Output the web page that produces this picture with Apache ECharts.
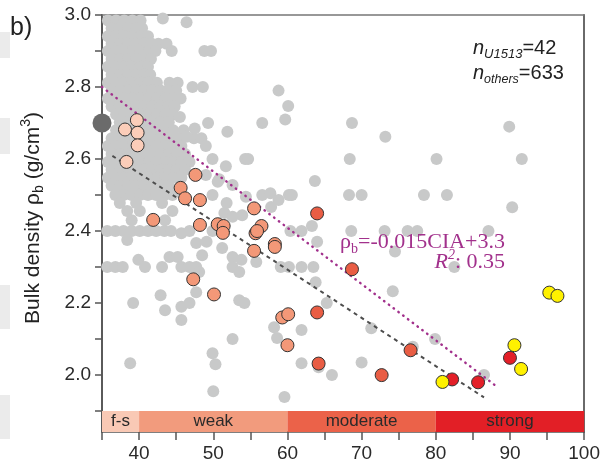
<!DOCTYPE html>
<html><head><meta charset="utf-8">
<script src="https://cdn.jsdelivr.net/npm/echarts@6/dist/echarts.min.js"></script>
<style>html,body{margin:0;padding:0;background:#fff}#c{width:603px;height:468px}</style>
</head><body><div id="c"></div>
<script>
// ---- axis ticks / labels ----
const xTickValues = [35,40,45,50,55,60,65,70,75,80,85,90,95,100];
const xLabelValues = [40,50,60,70,80,90,100];
const yTickValues = [1.9,2.0,2.1,2.2,2.3,2.4,2.5,2.6,2.7,2.8,2.9,3.0];
const yLabelValues = [2.0,2.2,2.4,2.6,2.8,3.0];

// ---- weathering classes (CIA ranges) ----
const classNames = ['f-s','weak','moderate','strong'];
const classFrom = [35,40,60,80];
const classTo = [40,60,80,100];
const classColors = ['#f9c9b5','#f29b7d','#eb6249','#e21f26'];

// ---- other sites: dense cluster rows [rho_b, [CIA...]] ----
const grayRows = [
  [2.985,[35.8,36.9,38.0,39.1,40.2]],
  [2.963,[36.3,37.4,38.5,39.6,40.4]],
  [2.941,[35.8,36.9,38.0,39.1,40.2,41.2]],
  [2.920,[36.3,37.4,38.5,39.6,40.7,41.7,42.6,43.7]],
  [2.900,[35.8,36.9,38.0,39.1,40.2,41.3,42.2,44.4]],
  [2.878,[36.3,37.4,38.5,39.6,40.7,41.6]],
  [2.856,[35.8,36.9,38.0,39.1,40.2,41.2]],
  [2.834,[36.3,37.4,38.5,39.6,40.7,41.5]],
  [2.812,[35.8,36.9,38.0,39.1,40.2,41.3,42.4,44.1,45.2]],
  [2.790,[36.3,37.4,38.5,39.6,40.7,41.8,42.9,43.9,45.0]],
  [2.768,[35.8,36.9,38.0,39.1,40.2,41.3,42.4,43.5,44.6,45.6]],
  [2.746,[36.3,37.4,38.5,39.6,40.7,41.8,42.9,44.0,44.8]],
  [2.724,[36.9,38.0,39.1,40.2,41.3,42.4,43.5,44.6]],
  [2.702,[37.4,38.5,39.6,40.7,41.8,42.9,44.0]],
  [2.680,[36.9,38.0,39.1,40.2,41.3,42.4,43.5,44.6,46.0]],
  [2.658,[36.3,37.4,38.5,39.6,40.7,41.8,42.9,44.0,45.1,47.4,48.4]],
  [2.636,[35.8,36.9,38.0,39.1,40.2,41.3,42.4,43.5,44.6,45.7]],
  [2.614,[36.3,37.4,38.5,39.6,40.7,41.8,42.9,44.0,45.1,46.2]],
  [2.592,[35.8,36.9,38.0,39.1,40.2,41.3,42.4,43.5,44.6,45.7,46.8]],
  [2.570,[36.3,37.4,38.5,39.6,40.7,41.8,42.9,44.0,45.1,46.2]],
  [2.548,[35.8,36.9,38.0,39.1,40.2,41.3,42.4,43.5,44.6,45.7]],
  [2.526,[36.3,37.4,38.5,39.6,40.7,41.8,42.9,44.0]],
  [2.500,[36.8,37.9,39.0,40.1,41.2,42.3,43.4,44.5]],
  [2.478,[37.4,39.6,43.1]],
  [2.456,[38.4,40.1,44.5]],
  [2.430,[39.0,43.5]],
  [2.400,[35.7,36.8,37.9,39.0,40.1,41.2,42.3,43.4,44.3]],
  [2.375,[38.4]],
  [2.320,[39.9]],
  [2.300,[35.7,36.8,37.8,40.8]]
];
// ---- other sites: scattered points [CIA, rho_b] ----
const grayScatter = [
  [43.2,2.99],[46.4,2.98],[48.8,2.90],[49.7,2.90],[47.2,2.80],[48.6,2.80],
  [58.8,2.79],[60.1,2.747],[59.7,2.71],[56.6,2.70],[49.3,2.70],[51.9,2.676],[47.5,2.685],[45.5,2.717],[46.4,2.662],[49.0,2.636],
  [68.7,2.70],[73.2,2.662],[89.9,2.69],[68.4,2.60],[80.1,2.60],[91.6,2.60],
  [49.9,2.60],[51.7,2.58],[54.3,2.60],[54.7,2.60],[50.8,2.544],[52.6,2.528],[49.0,2.556],[50.6,2.537],[63.7,2.539],
  [49.9,2.50],[54.4,2.495],[56.6,2.50],[57.7,2.505],[60.2,2.50],[60.6,2.50],[58.8,2.486],[57.8,2.467],[51.8,2.478],
  [68.3,2.50],[70.0,2.50],[78.4,2.50],[81.5,2.50],[90.3,2.466],
  [51.5,2.45],[52.6,2.44],[53.9,2.444],
  [63.3,2.414],[61.9,2.40],[60.4,2.40],[64.0,2.37],
  [68.6,2.40],[73.1,2.40],[76.2,2.40],[77.5,2.40],[87.1,2.40],
  [45.7,2.394],[46.8,2.40],[47.7,2.367],[49.1,2.37],[49.9,2.40],[51.2,2.353],[48.5,2.333],[52.6,2.328],[53.8,2.32],[55.8,2.314],
  [74.5,2.343],[82.5,2.30],[68.7,2.294],
  [43.1,2.30],[44.1,2.328],[45.2,2.328],[45.7,2.30],[46.8,2.30],[47.7,2.30],[48.1,2.286],[52.6,2.30],[53.5,2.286],
  [59.1,2.30],[60.2,2.30],[61.9,2.30],[63.5,2.30],[63.8,2.258],
  [47.7,2.23],[42.9,2.222],[39.2,2.20],[43.5,2.18],[45.7,2.19],[46.8,2.20],[45.7,2.153],[53.5,2.208],[54.2,2.20],[65.3,2.20],
  [74.2,2.233],[71.3,2.13],[79.9,2.10],[76.9,2.079],
  [58.2,2.133],[58.6,2.103],[61.9,2.125],[52.6,2.10],[49.9,2.061],[50.3,2.03],[38.8,2.033],[50.0,1.955],[59.6,1.939],[61.9,2.033],[64.2,2.022],
  [70.0,2.035],[66.0,2.00],[86.5,2.00]
];
// ---- U1513 samples by weathering class [CIA, rho_b] ----
const fsPts = [[39.7,2.708],[38.1,2.682],[39.8,2.673],[39.8,2.638],[38.3,2.592]];
const weakPts = [[47.6,2.556],[45.6,2.52],[46.2,2.491],[48.2,2.486],[41.9,2.431],[48.2,2.417],[50.6,2.419],[51.4,2.414],[51.3,2.395],
  [55.5,2.463],[56.5,2.414],[55.7,2.394],[55.9,2.40],[58.3,2.364],[58.3,2.356],[55.5,2.345],[47.3,2.266],[50.1,2.224],
  [59.3,2.16],[60.1,2.169],[60.0,2.083]];
const moderatePts = [[64.0,2.449],[64.0,2.174],[64.2,2.032],[68.7,2.294],[76.6,2.069],[72.7,2.00]];
const strongPts = [[82.2,1.988],[85.7,1.980],[90.0,2.048]];
const yellowPts = [[80.9,1.981],[90.6,2.083],[91.5,2.017],[95.3,2.229],[96.4,2.22]];
const freshPt = [[35,2.70]];
// ---- regression lines (end points) ----
const fitAll = [[35,2.80],[88.3,1.967]];
const fitOthers = [[36.4,2.609],[86.5,1.938]];

const grayAll = grayRows.flatMap(r => r[1].map(x => [x, r[0]])).concat(grayScatter);

const chart = echarts.init(document.getElementById('c'), null, {renderer:'canvas'});
const FONT = '"Liberation Sans", Arial, sans-serif';
const SERIF = '"Liberation Serif", "Times New Roman", serif';
const YMIN = 1.842;

const colored = (data, color, z) => ({
  type:'scatter', data, symbolSize:13, z,
  itemStyle:{color, borderColor:'#333', borderWidth:1, opacity:1}
});

chart.setOption({
  animation:false,
  backgroundColor:'#fff',
  grid:{left:102, right:16, top:15, bottom:36},
  xAxis:[{
    type:'value', min:35, max:100, position:'bottom',
    axisLine:{show:true, lineStyle:{color:'#555', width:1.5}},
    axisTick:{show:true, inside:false, length:8, customValues:xTickValues, lineStyle:{color:'#555', width:1.5}},
    axisLabel:{show:true, customValues:xLabelValues, margin:12, fontSize:19, color:'#2a2a2a', fontFamily:FONT},
    splitLine:{show:false}
  },{
    type:'value', min:35, max:100, position:'top',
    axisLine:{show:true, lineStyle:{color:'#777', width:1.5}},
    axisTick:{show:false}, axisLabel:{show:false}, splitLine:{show:false}
  }],
  yAxis:[{
    type:'value', min:YMIN, max:3.0, position:'left',
    axisLine:{show:true, lineStyle:{color:'#5a5a5a', width:2}},
    axisTick:{show:true, inside:false, length:7, customValues:yTickValues, lineStyle:{color:'#555', width:1.5}},
    axisLabel:{show:true, customValues:yLabelValues, margin:11, fontSize:19, color:'#2a2a2a', fontFamily:FONT,
      formatter:v => Number(v).toFixed(1)},
    splitLine:{show:false}
  },{
    type:'value', min:YMIN, max:3.0, position:'right',
    axisLine:{show:true, lineStyle:{color:'#6a6a6a', width:2}},
    axisTick:{show:false}, axisLabel:{show:false}, splitLine:{show:false}
  }],
  series:[
    {
      type:'scatter', data:grayAll, symbolSize:12, z:1,
      itemStyle:{color:'#c8c9c9', opacity:1},
      markArea:{
        silent:true,
        label:{show:true, position:'inside', color:'#2a2a2a', fontSize:17, fontFamily:FONT},
        data: classNames.map((n,i) => [
          {name:n, xAxis:classFrom[i], yAxis:YMIN, itemStyle:{color:classColors[i], opacity:1}},
          {xAxis:classTo[i], yAxis:1.9}
        ])
      }
    },
    {type:'line', data:fitOthers, symbol:'none', z:2, silent:true,
      lineStyle:{color:'#4d4d4d', width:2, type:[4,4]}},
    {type:'line', data:fitAll, symbol:'none', z:2, silent:true,
      lineStyle:{color:'#a2318c', width:2.4, type:[0.5,5.5], cap:'round'}},
    colored(fsPts, '#fbcdb9', 3),
    colored(weakPts, '#f39878', 3),
    colored(moderatePts, '#e95d44', 3),
    colored(strongPts, '#e31f28', 3),
    colored(yellowPts, '#fff100', 3),
    {type:'scatter', data:freshPt, symbolSize:19, z:4, clip:false,
      itemStyle:{color:'#6b6b6b', opacity:1}}
  ],
  graphic:[
    {type:'rect', left:0, top:32, shape:{width:10, height:26}, style:{fill:'#ebebeb'}, z:0},
    {type:'rect', left:0, top:118, shape:{width:10, height:36}, style:{fill:'#ebebeb'}, z:0},
    {type:'rect', left:0, top:285, shape:{width:10, height:44}, style:{fill:'#ebebeb'}, z:0},
    {type:'rect', left:0, top:395, shape:{width:10, height:44}, style:{fill:'#ebebeb'}, z:0},
    {type:'text', x:10, y:28, z:10, style:{text:'b)', font:'25px '+FONT, fill:'#222', align:'left', verticalAlign:'middle'}},
    {type:'text', x:33, y:218, rotation:Math.PI/2, z:10, style:{
      text:'{a|Bulk density ρ}{s|b}{a| (g/cm}{p|3}{a|)}', align:'center', verticalAlign:'middle', fill:'#222',
      rich:{
        a:{fontSize:21, fontFamily:FONT, lineHeight:27, fill:'#222'},
        s:{fontSize:14, fontFamily:FONT, lineHeight:14, verticalAlign:'bottom', fill:'#222'},
        p:{fontSize:14, fontFamily:FONT, lineHeight:14, verticalAlign:'top', fill:'#222'}
      }}},
    {type:'text', x:473, y:48, z:10, style:{
      text:'{i|n}{s|U1513}{a|=42}', align:'left', verticalAlign:'middle',
      rich:{
        i:{fontSize:20, fontFamily:FONT, fontStyle:'italic', lineHeight:26, fill:'#222'},
        s:{fontSize:13, fontFamily:FONT, fontStyle:'italic', lineHeight:13, verticalAlign:'bottom', fill:'#222'},
        a:{fontSize:20, fontFamily:FONT, lineHeight:26, fill:'#222'}
      }}},
    {type:'text', x:473, y:73, z:10, style:{
      text:'{i|n}{s|others}{a|=633}', align:'left', verticalAlign:'middle',
      rich:{
        i:{fontSize:20, fontFamily:FONT, fontStyle:'italic', lineHeight:26, fill:'#222'},
        s:{fontSize:12.5, fontFamily:FONT, fontStyle:'italic', lineHeight:13, verticalAlign:'bottom', fill:'#222'},
        a:{fontSize:20, fontFamily:FONT, lineHeight:26, fill:'#222'}
      }}},
    {type:'text', x:505, y:242, z:10, style:{
      text:'{a|ρ}{s|b}{a|=-0.015CIA+3.3}', align:'right', verticalAlign:'middle',
      rich:{
        a:{fontSize:22, fontFamily:SERIF, lineHeight:28, fill:'#a2318c'},
        s:{fontSize:14, fontFamily:SERIF, lineHeight:14, verticalAlign:'bottom', fill:'#a2318c'}
      }}},
    {type:'text', x:505, y:262, z:10, style:{
      text:'{i|R}{p|2}{a|: 0.35}', align:'right', verticalAlign:'middle',
      rich:{
        i:{fontSize:22, fontFamily:SERIF, fontStyle:'italic', lineHeight:28, fill:'#a2318c'},
        p:{fontSize:14, fontFamily:SERIF, fontStyle:'italic', lineHeight:14, verticalAlign:'top', fill:'#a2318c'},
        a:{fontSize:22, fontFamily:SERIF, lineHeight:28, fill:'#a2318c'}
      }}}
  ]
});
</script></body></html>
